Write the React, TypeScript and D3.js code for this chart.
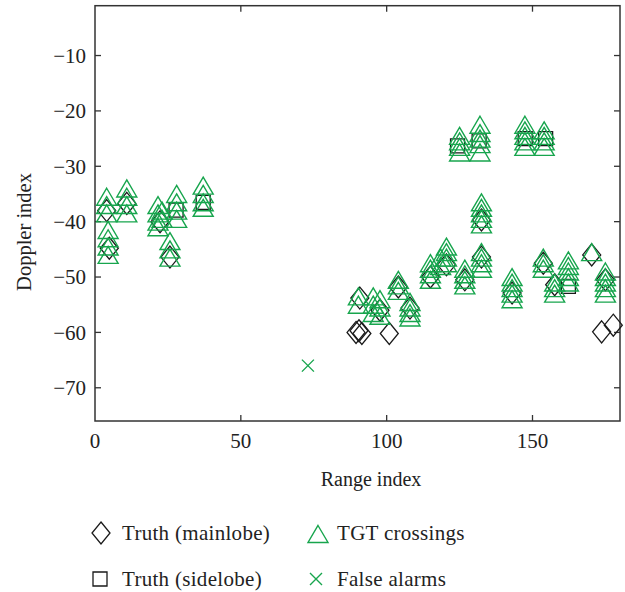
import React from "react";
import * as d3 from "d3";

// Detections and truth positions, as [range index, Doppler index]
const tgtCrossings: [number, number][] = [
  [4, -35.5], [4, -37], [4, -38.5], [4.5, -41.5], [4.5, -43], [4.5, -44.5], [4.5, -46],
  [10.9, -34], [10.9, -35.5], [10.9, -37], [10.9, -38.5],
  [21.6, -37], [21.6, -38.5], [21.6, -40], [21.6, -41], [23, -38], [23, -39.5],
  [25.7, -43.5], [25.7, -45], [25.7, -46.5],
  [28, -35], [28, -36.5], [28, -38], [28, -39.5],
  [37.1, -33.5], [37.1, -35], [37.1, -36.5], [37.1, -37.5],
  [90.3, -53.5], [90.3, -55],
  [95.4, -53.5], [95.4, -55], [95.4, -56.5],
  [97.7, -54], [97.7, -55.5], [97.7, -57],
  [104, -50.5], [104, -51.5], [104, -52.5],
  [108, -54.5], [108, -55.5], [108, -56.5], [108, -57.3],
  [115, -47.5], [115, -48.5], [115, -49.5], [115, -50.5],
  [118.5, -46.5], [118.5, -48],
  [120.5, -44.5], [120.5, -45.5], [120.5, -46.5], [120.5, -47.5],
  [126.8, -48.5], [126.8, -49.5], [126.8, -50.5], [126.8, -51.5],
  [132.5, -45.5], [132.5, -46.5], [132.5, -47.5], [132.5, -48.5],
  [132.5, -36.5], [132.5, -37.5], [132.5, -38.5], [132.5, -39.5], [132.5, -40.5],
  [125, -24.5], [125, -25.5], [125, -26.5], [125, -27.5],
  [132, -22.5], [132, -24], [132, -25], [132, -26], [132, -27.5],
  [143, -50], [143, -51], [143, -52], [143, -53], [143, -54],
  [147.4, -22.5], [147.4, -23.5], [147.4, -24.5], [147.4, -25.5], [147.4, -26.5],
  [154, -23.5], [154, -24.5], [154, -25.5], [154, -26.5],
  [153.7, -46.5], [153.7, -47.5], [153.7, -48.5],
  [157.6, -51], [157.6, -52], [157.6, -53],
  [162.3, -47], [162.3, -48], [162.3, -49], [162.3, -50], [162.3, -51],
  [170.3, -45.5],
  [175, -49], [175, -50], [175, -51], [175, -52], [175, -53],
];

const truthMainlobe: [number, number][] = [
  [4, -38], [4.9, -44.8], [10.9, -36.7], [22.3, -40], [25.7, -46.4],
  [89.5, -60], [90.5, -59.7], [91.5, -60.2], [90.8, -53.8], [97.7, -56], [100.9, -60.2],
  [104, -51.8], [108, -55.6], [115, -50], [120.5, -47.8], [126.8, -50.5],
  [132.5, -46.4], [132.5, -39.7], [143, -52.9], [153.7, -47.5], [157.6, -51.4],
  [170.3, -46], [175, -50.5], [173.7, -59.9], [177.7, -58.7],
];

const truthSidelobe: [number, number][] = [
  [27.8, -37.9], [37.1, -36.5], [124.3, -26.3], [131.7, -25.4],
  [147.5, -25], [154.5, -25], [162.3, -51.7],
];

const falseAlarms: [number, number][] = [[73, -66]];

const xTicks = [0, 50, 100, 150];
const yTicks = [-10, -20, -30, -40, -50, -60, -70];

const GREEN = "#17a54d";
const BLACK = "#1a1a1a";
const FONT = "'Liberation Serif', 'Times New Roman', serif";

const W = 625;
const H = 592;
const left = 95;
const right = 620;
const top = 5.7;
const bottom = 421;

const triPath = "M0,-8.5L10,8.5L-10,8.5Z";
const diaPath = "M0,-11L9,0L0,11L-9,0Z";
const sqPath = "M-7,-7H7V7H-7Z";
const crossPath = "M-6,-6L6,6M-6,6L6,-6";

export default function App() {
  const x = d3.scaleLinear().domain([0, 180]).range([left, right]);
  const y = d3.scaleLinear().domain([-76, -1]).range([bottom, top]);
  const fmt = d3.format("d");
  const tickLen = 6;

  return (
    <svg
      width={W}
      height={H}
      style={{ position: "absolute", left: 0, top: 0, background: "#fff" }}
      fontFamily={FONT}
    >
      <rect x={0} y={0} width={W} height={H} fill="#fff" />

      {/* frame */}
      <rect
        x={left}
        y={top}
        width={right - left}
        height={bottom - top}
        fill="none"
        stroke="#333"
        strokeWidth={1.5}
      />

      {/* x ticks (bottom and top, pointing inward) */}
      {xTicks.map((t) => (
        <g key={"x" + t}>
          {t !== 0 && (
            <>
              <line x1={x(t)} x2={x(t)} y1={bottom} y2={bottom - tickLen} stroke="#333" strokeWidth={1.3} />
              <line x1={x(t)} x2={x(t)} y1={top} y2={top + tickLen} stroke="#333" strokeWidth={1.3} />
            </>
          )}
          <text x={x(t)} y={448} textAnchor="middle" fontSize={21} fill="#222">
            {fmt(t)}
          </text>
        </g>
      ))}

      {/* y ticks (left and right, pointing inward) */}
      {yTicks.map((t) => (
        <g key={"y" + t}>
          <line x1={left} x2={left + tickLen} y1={y(t)} y2={y(t)} stroke="#333" strokeWidth={1.3} />
          <line x1={right} x2={right - tickLen} y1={y(t)} y2={y(t)} stroke="#333" strokeWidth={1.3} />
          <text x={86} y={y(t)} dy="0.35em" textAnchor="end" fontSize={21} fill="#222">
            {fmt(t)}
          </text>
        </g>
      ))}

      {/* axis titles */}
      <text x={371} y={486} textAnchor="middle" fontSize={20} fill="#222">
        Range index
      </text>
      <text
        transform={`translate(31,232) rotate(-90)`}
        textAnchor="middle"
        fontSize={20.5}
        fill="#222"
      >
        Doppler index
      </text>

      {/* truth markers */}
      {truthMainlobe.map(([a, b], i) => (
        <path key={"d" + i} d={diaPath} transform={`translate(${x(a)},${y(b)})`} fill="none" stroke={BLACK} strokeWidth={1.3} />
      ))}
      {truthSidelobe.map(([a, b], i) => (
        <path key={"s" + i} d={sqPath} transform={`translate(${x(a)},${y(b)})`} fill="none" stroke={BLACK} strokeWidth={1.3} />
      ))}

      {/* detections */}
      {tgtCrossings.map(([a, b], i) => (
        <path key={"t" + i} d={triPath} transform={`translate(${x(a)},${y(b)})`} fill="none" stroke={GREEN} strokeWidth={1.4} />
      ))}
      {falseAlarms.map(([a, b], i) => (
        <path key={"f" + i} d={crossPath} transform={`translate(${x(a)},${y(b)})`} fill="none" stroke={GREEN} strokeWidth={1.4} />
      ))}

      {/* legend */}
      <g fontSize={21} fill="#222" letterSpacing={0.3}>
        <path d={diaPath} transform="translate(101,533)" fill="none" stroke={BLACK} strokeWidth={1.3} />
        <text x={122} y={540}>Truth (mainlobe)</text>
        <path d={triPath} transform="translate(318,534)" fill="none" stroke={GREEN} strokeWidth={1.4} />
        <text x={337} y={540}>TGT crossings</text>
        <path d={sqPath} transform="translate(100,579)" fill="none" stroke={BLACK} strokeWidth={1.3} />
        <text x={122} y={586}>Truth (sidelobe)</text>
        <path d={crossPath} transform="translate(316,579)" fill="none" stroke={GREEN} strokeWidth={1.4} />
        <text x={337} y={586}>False alarms</text>
      </g>
    </svg>
  );
}
